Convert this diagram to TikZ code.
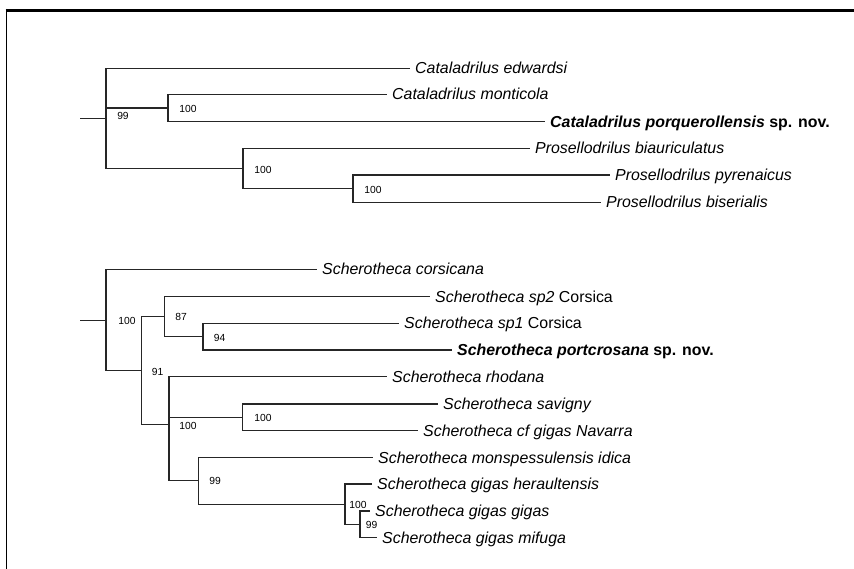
\documentclass[tikz,border=0pt]{standalone}
\usepackage{fontspec}
\setmainfont{Liberation Sans}
\begin{document}
\begin{tikzpicture}[x=1pt,y=-1pt,
  tip/.style={anchor=west,inner xsep=5pt,inner ysep=0pt,text height=11.4pt,text depth=0pt,
    font=\fontsize{15.9}{18}\selectfont\itshape},
  boot/.style={inner sep=0pt,font=\fontsize{10.3}{12}\selectfont},
  branch/.style={draw=black!85,line width=1.4pt}]
\path[fill=white,use as bounding box] (0,0) rectangle (854,569);
\draw[line width=3pt] (5.5,10.5) -- (854,10.5);
\draw[line width=1.8pt] (6.5,9) -- (6.5,569);
% Cataladrilus / Prosellodrilus
\coordinate (s0) at (80,118.3);
\coordinate (r1) at (106,118.3);
\coordinate (n1) at (168,108);
\coordinate (n2) at (243,168.3);
\coordinate (n3) at (353,188.6);
\node[tip] (t1) at (410,68.3) {Cataladrilus edwardsi};
\node[tip] (t2) at (387,94.3) {Cataladrilus monticola};
\node[tip] (t3) at (545,121.7) {\bfseries Cataladrilus porquerollensis {\upshape sp. nov.}};
\node[tip] (t4) at (530,148.3) {Prosellodrilus biauriculatus};
\node[tip] (t5) at (610,175) {Prosellodrilus pyrenaicus};
\node[tip] (t6) at (601,202.3) {Prosellodrilus biserialis};
\draw[branch] (s0) -- (r1);
\draw[branch] (r1) |- (t1);
\draw[branch] (r1) |- (n1);
\draw[branch] (r1) |- (n2);
\draw[branch] (n1) |- (t2);
\draw[branch] (n1) |- (t3);
\draw[branch] (n2) |- (t4);
\draw[branch] (n2) |- (n3);
\draw[branch] (n3) |- (t5);
\draw[branch] (n3) |- (t6);
\node[boot] (b1) at (123,116) {99};
\node[boot] (b2) at (188,109) {100};
\node[boot] (b3) at (263,169.5) {100};
\node[boot] (b4) at (373,189.5) {100};
% Scherotheca
\coordinate (s1) at (80,320.5);
\coordinate (r2) at (106,320.5);
\coordinate (m1) at (141.7,370.7);
\coordinate (m2) at (164.3,316.7);
\coordinate (m3) at (203,336.7);
\coordinate (m4) at (169,424.3);
\coordinate (m5) at (242.7,417.3);
\coordinate (m6) at (198.3,480.5);
\coordinate (m7) at (345,504.3);
\coordinate (m8) at (360,524.2);
\node[tip] (u1) at (317,269.3) {Scherotheca corsicana};
\node[tip] (u2) at (430,296.7) {Scherotheca sp2 {\upshape Corsica}};
\node[tip] (u3) at (399,323.3) {Scherotheca sp1 {\upshape Corsica}};
\node[tip] (u4) at (452,350) {\bfseries Scherotheca portcrosana {\upshape sp. nov.}};
\node[tip] (u5) at (387,376.7) {Scherotheca rhodana};
\node[tip] (u6) at (438,404) {Scherotheca savigny};
\node[tip] (u7) at (418,430.7) {Scherotheca cf gigas Navarra};
\node[tip] (u8) at (373,457.7) {Scherotheca monspessulensis idica};
\node[tip] (u9) at (372,484) {Scherotheca gigas heraultensis};
\node[tip] (u10) at (370,511) {Scherotheca gigas gigas};
\node[tip] (u11) at (377,537.3) {Scherotheca gigas mifuga};
\draw[branch] (s1) -- (r2);
\draw[branch] (r2) |- (u1);
\draw[branch] (r2) |- (m1);
\draw[branch] (m1) |- (m2);
\draw[branch] (m1) |- (m4);
\draw[branch] (m2) |- (u2);
\draw[branch] (m2) |- (m3);
\draw[branch] (m3) |- (u3);
\draw[branch] (m3) |- (u4);
\draw[branch] (m4) |- (u5);
\draw[branch] (m4) |- (m5);
\draw[branch] (m4) |- (m6);
\draw[branch] (m5) |- (u6);
\draw[branch] (m5) |- (u7);
\draw[branch] (m6) |- (u8);
\draw[branch] (m6) |- (m7);
\draw[branch] (m7) |- (u9);
\draw[branch] (m7) |- (m8);
\draw[branch] (m8) |- (u10);
\draw[branch] (m8) |- (u11);
\node[boot] (c1) at (127,321) {100};
\node[boot] (c2) at (181,317.3) {87};
\node[boot] (c3) at (219.5,337.7) {94};
\node[boot] (c4) at (157.5,371.7) {91};
\node[boot] (c5) at (188,426) {100};
\node[boot] (c6) at (263,417.7) {100};
\node[boot] (c7) at (215,481) {99};
\node[boot] (c8) at (358,505) {100};
\node[boot] (c9) at (371.7,525) {99};
\end{tikzpicture}
\end{document}
